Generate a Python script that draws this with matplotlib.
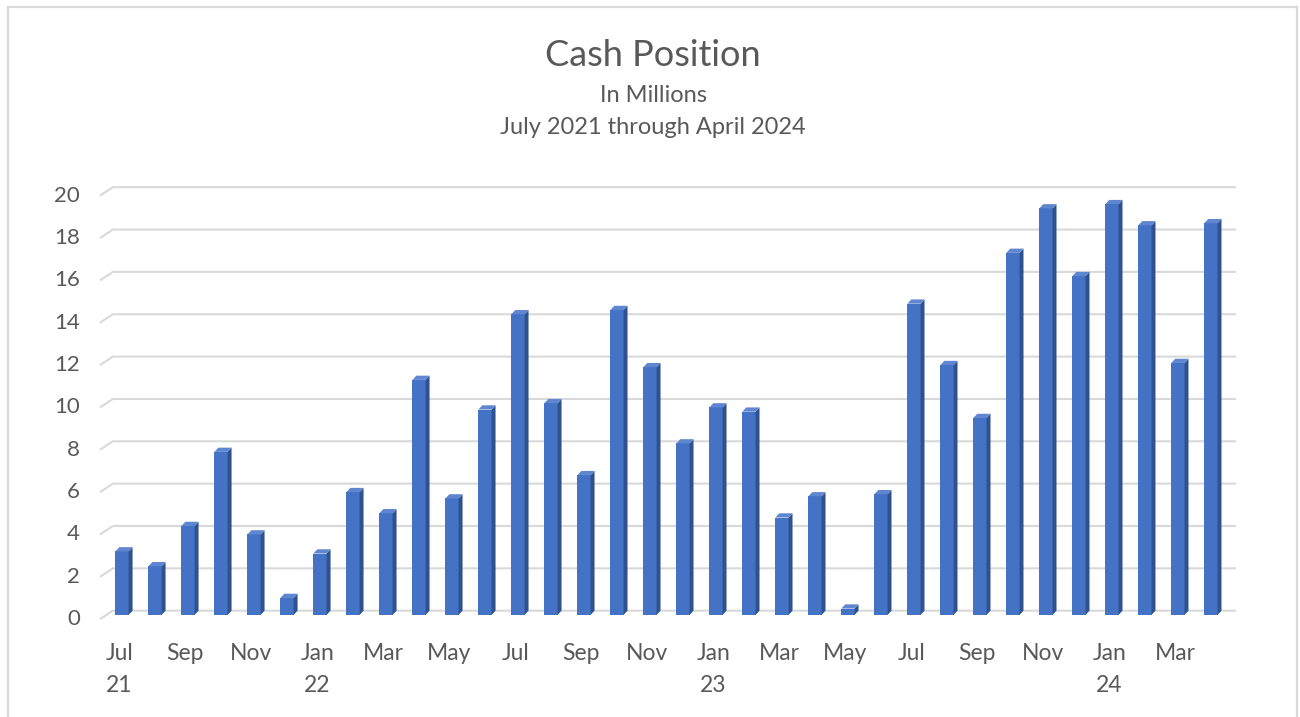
import matplotlib.pyplot as plt
from matplotlib.patches import Polygon
from matplotlib.lines import Line2D

# monthly cash position, Jul 2021 .. Apr 2024 (millions)
months = ['Jul', 'Aug', 'Sep', 'Oct', 'Nov', 'Dec',
          'Jan', 'Feb', 'Mar', 'Apr', 'May', 'Jun',
          'Jul', 'Aug', 'Sep', 'Oct', 'Nov', 'Dec',
          'Jan', 'Feb', 'Mar', 'Apr', 'May', 'Jun',
          'Jul', 'Aug', 'Sep', 'Oct', 'Nov', 'Dec',
          'Jan', 'Feb', 'Mar', 'Apr']
years = {0: '21', 6: '22', 18: '23', 30: '24'}
cash = [3.0, 2.3, 4.2, 7.7, 3.8, 0.8,
        2.9, 5.8, 4.8, 11.1, 5.5, 9.7,
        14.2, 10.0, 6.6, 14.4, 11.7, 8.1,
        9.8, 9.6, 4.6, 5.6, 0.3, 5.7,
        14.7, 11.8, 9.3, 17.1, 19.2, 16.0,
        19.4, 18.4, 11.9, 18.5]
y_ticks = [0, 2, 4, 6, 8, 10, 12, 14, 16, 18, 20]

TXT = '#595959'
GRID = '#D9D9D9'
FRONT = '#4472C4'
SIDE = '#2F528F'
TOP = '#5E86D1'

plt.rcParams['font.family'] = ['Lato', 'DejaVu Sans']

fig = plt.figure(figsize=(13, 7.17), dpi=100)
ax = fig.add_axes([100 / 1300, 97 / 717, 1136 / 1300, 440 / 717])
ax.set_xlim(-0.667, 33.76)
ax.set_ylim(-0.44, 20.34)
ax.axis('off')

# back wall gridlines with the little floor diagonal on the left
wall_dx, wall_dy = 0.39, 0.4
for v in y_ticks:
    ax.plot([-0.667, -0.667 + wall_dx, 33.76], [v - wall_dy, v, v],
            color=GRID, lw=1.5, solid_capstyle='butt', zorder=1, clip_on=False)
    ax.text(-1.27, v - wall_dy, str(v), ha='right', va='center',
            fontsize=16, color=TXT, clip_on=False)

# bars with a fake 3d side and top
w, dx, dy, base = 0.4, 0.12, 0.2, -0.2
x = list(range(len(cash)))
ax.bar(x, cash, width=w, bottom=base, color=FRONT, zorder=3)
for xi, v in zip(x, cash):
    top = base + v
    r = xi + w / 2
    l = xi - w / 2
    ax.add_patch(Polygon([(r, base), (r + dx, base + dy), (r + dx, top + dy), (r, top)],
                         closed=True, facecolor=SIDE, edgecolor='none', zorder=3))
    ax.add_patch(Polygon([(l, top), (l + dx, top + dy), (r + dx, top + dy), (r, top)],
                         closed=True, facecolor=TOP, edgecolor='none', zorder=3))

# month labels every other month, year under January (and first month)
for i, m in enumerate(months):
    if i % 2 == 0:
        ax.text(i - 0.08, -2.0, m, ha='center', va='center', fontsize=16.5, color=TXT, clip_on=False)
    if i in years:
        ax.text(i - 0.08, -3.55, years[i], ha='center', va='center', fontsize=16.5, color=TXT,
                clip_on=False)

fig.text(653 / 1300, 1 - 55 / 717, 'Cash Position', ha='center', va='center', fontsize=26, color=TXT)
fig.text(653 / 1300, 1 - 95 / 717, 'In Millions', ha='center', va='center', fontsize=17, color=TXT)
fig.text(653 / 1300, 1 - 127 / 717, 'July 2021 through April 2024', ha='center', va='center',
         fontsize=17, color=TXT)

# outer chart border (bottom edge is cut off in the original)
for xs, ys in [([8, 8], [0, 710]), ([8, 1297], [710, 710]), ([1297, 1297], [710, 0])]:
    fig.add_artist(Line2D([a / 1300 for a in xs], [b / 717 for b in ys],
                          color=GRID, lw=1.6))

fig.savefig('out.png', dpi=100)
